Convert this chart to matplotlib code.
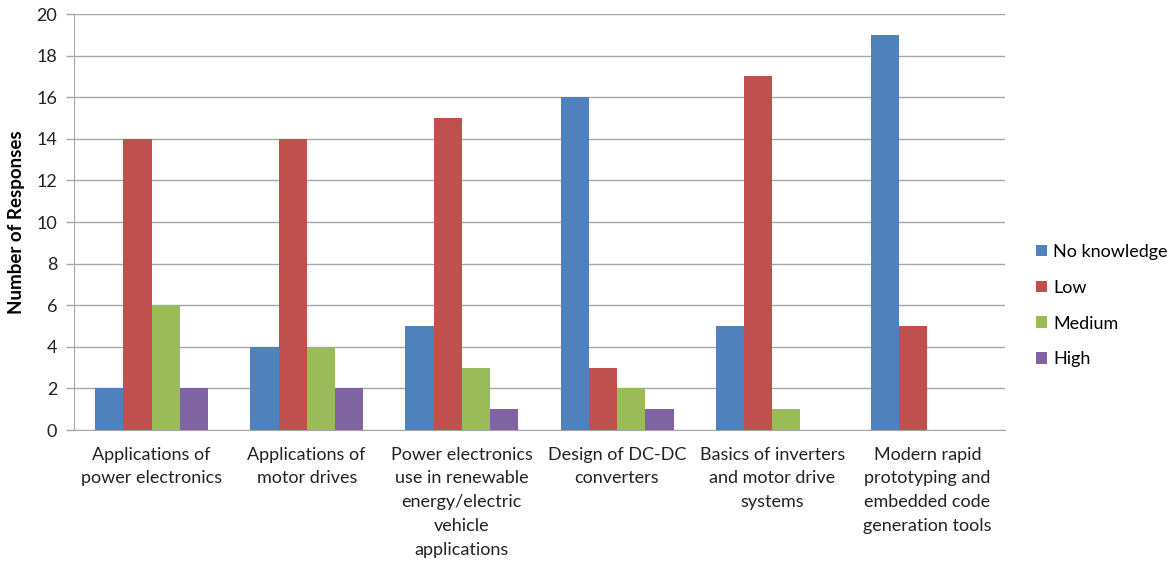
import numpy as np
import matplotlib
matplotlib.use("Agg")
import matplotlib.pyplot as plt

plt.rcParams['font.family'] = ['Lato', 'DejaVu Sans']

topics = [
    "Applications of\npower electronics",
    "Applications of\nmotor drives",
    "Power electronics\nuse in renewable\nenergy/electric\nvehicle\napplications",
    "Design of DC-DC\nconverters",
    "Basics of inverters\nand motor drive\nsystems",
    "Modern rapid\nprototyping and\nembedded code\ngeneration tools",
]
no_knowledge = [2, 4, 5, 16, 5, 19]
low = [14, 14, 15, 3, 17, 5]
medium = [6, 4, 3, 2, 1, 0]
high = [2, 2, 1, 1, 0, 0]

series = [
    ("No knowledge", no_knowledge, "#4F81BD"),
    ("Low", low, "#C0504D"),
    ("Medium", medium, "#9BBB59"),
    ("High", high, "#8064A2"),
]

fig = plt.figure(figsize=(11.71, 5.67), dpi=100)
ax = fig.add_axes([0.0632, 0.2416, 0.795, 0.7337])

x = np.arange(len(topics))
w = 0.182
for i, (name, vals, col) in enumerate(series):
    ax.bar(x + (i - 1.5) * w, vals, width=w, color=col, label=name, zorder=3)

ax.set_xlim(-0.5, len(topics) - 0.5)
ax.set_ylim(0, 20)
ax.set_yticks(range(0, 21, 2))
ax.grid(axis='y', color='#A6A6A6', linewidth=1, zorder=0)
ax.set_xticks(x)
ax.set_xticklabels(topics, fontsize=13, color='#222222', linespacing=1.6)
ax.tick_params(axis='x', length=0, pad=12)
ax.tick_params(axis='y', labelsize=13, colors='#A6A6A6', labelcolor='#222222', length=6, width=1, pad=6)
for s in ['top', 'right']:
    ax.spines[s].set_visible(False)
for s in ['left', 'bottom']:
    ax.spines[s].set_color('#A6A6A6')

ax.set_ylabel("Number of Responses", fontsize=13.5, fontweight='bold', labelpad=8)

fig.legend(loc='center left', bbox_to_anchor=(0.885, 0.461), frameon=False, fontsize=13,
           handlelength=0.6, handleheight=0.6, handletextpad=0.35, labelspacing=1.1,
           borderaxespad=0, borderpad=0)

fig.savefig("out.png", dpi=100)
